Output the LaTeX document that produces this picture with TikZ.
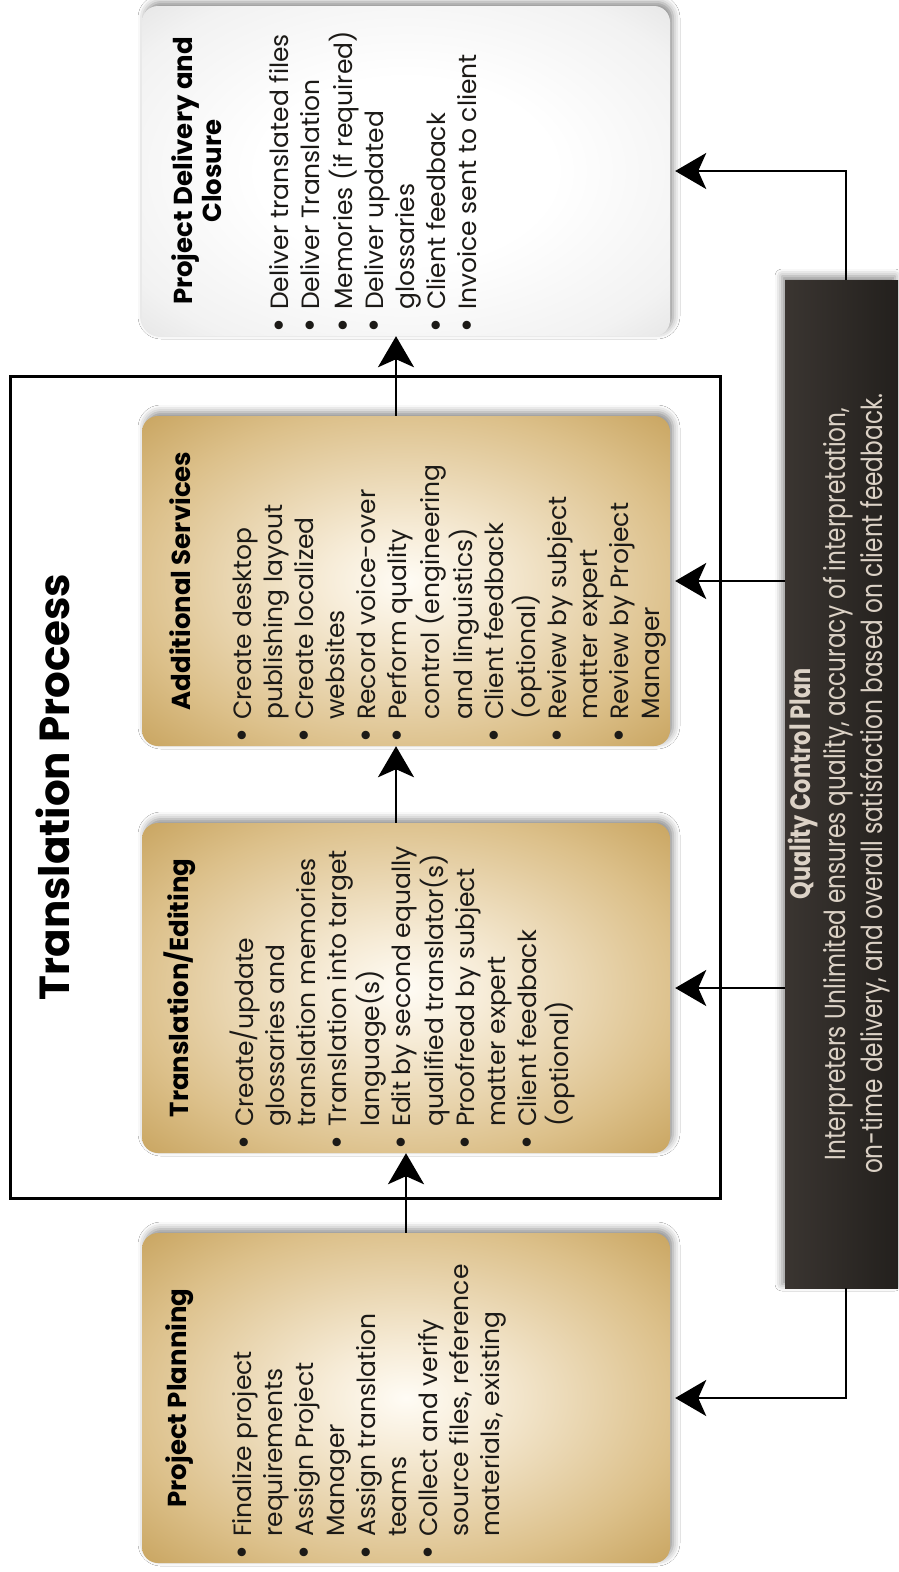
\documentclass[tikz,border=0pt]{standalone}
\usepackage{fontspec}
\setmainfont{Poppins}
\newfontfamily\qcfont{Poppins}[FakeStretch=0.8]
\usetikzlibrary{shadows.blur,arrows.meta}
\definecolor{cream}{HTML}{FFFCF5}
\definecolor{creamB}{HTML}{F6EBD6}
\definecolor{goldmid}{HTML}{DCC08A}
\definecolor{gold}{HTML}{BC9345}
\definecolor{golddk}{HTML}{AC8335}
\definecolor{grayA}{HTML}{FFFFFF}
\definecolor{grayB}{HTML}{F2F2F2}
\definecolor{grayC}{HTML}{D6D6D6}
\definecolor{grayD}{HTML}{BDBDBD}
\definecolor{qcL}{HTML}{3A3531}
\definecolor{qcR}{HTML}{23201D}
\definecolor{qctext}{HTML}{DCD2C6}
\definecolor{ink}{HTML}{1C1A17}
\pgfdeclareradialshading{goldrad}{\pgfpoint{0bp}{0bp}}{color(0bp)=(cream); color(8bp)=(creamB); color(26bp)=(goldmid); color(42bp)=(gold); color(50bp)=(golddk)}
\pgfdeclareradialshading{grayrad}{\pgfpoint{0bp}{0bp}}{color(0bp)=(grayA); color(14bp)=(grayA); color(30bp)=(grayB); color(44bp)=(grayC); color(50bp)=(grayD)}
\newcommand{\bul}{\makebox[20pt][l]{\hspace{-3pt}\raisebox{-2pt}{\fontsize{34}{31}\selectfont\textbullet}}}
\tikzset{
  stagebox/.style={shade, shading=#1, rounded corners=16pt, minimum width=528pt, minimum height=330pt, inner sep=0pt,
    blur shadow={shadow xshift=3pt, shadow yshift=4pt, shadow blur radius=7pt, shadow opacity=45}},
  boxtitle/.style={rotate=90, font=\fontsize{26}{29}\selectfont\bfseries, text=black, inner sep=0pt, align=center},
  boxbody/.style={rotate=90, anchor=north west, font=\fontsize{25}{31}\selectfont, text=ink, inner sep=0pt},
  arr/.style={line width=2.8pt, -{Stealth[length=31pt, width=36pt, inset=8pt]}},
  conn/.style={line width=2.6pt, -{Stealth[length=31pt, width=36pt, inset=8pt]}}
}
\begin{document}
\begin{tikzpicture}[x=1pt,y=-1pt]
\useasboundingbox[fill=white] (0,0) rectangle (898,1572);
% outer frame
\node[draw=black, line width=3pt, minimum width=710pt, minimum height=822pt, inner sep=0pt] (frame) at (365,787) {};
\node[rotate=90, font=\fontsize{42}{46}\selectfont\bfseries, inner sep=0pt] (ttl) at (53,787) {Translation Process};
% stage boxes
\node[stagebox=grayrad] (deliv) at (406,171) {};
\node[stagebox=goldrad] (add) at (406,581) {};
\node[stagebox=goldrad] (trans) at (406,988) {};
\node[stagebox=goldrad] (plan) at (406,1398) {};
% quality control box
\node[left color=qcL, right color=qcR, minimum width=113pt, minimum height=1008pt, inner sep=0pt,
  blur shadow={shadow xshift=-3pt, shadow yshift=4pt, shadow blur radius=7pt, shadow opacity=45}] (qc) at (841.5,784) {};
\node[rotate=90, text=qctext, font=\qcfont\fontsize{28}{32}\selectfont\bfseries, inner sep=0pt] (qct) at (803,784) {Quality Control Plan};
\node[rotate=90, text=qctext, font=\qcfont\fontsize{29}{37}\selectfont, align=center, inner sep=0pt] (qcb) at (857,784)
  {Interpreters Unlimited ensures quality, accuracy of interpretation,\\on-time delivery, and overall satisfaction based on client feedback.};
% titles
\node[boxtitle] (t1) at (180,1398) {Project Planning};
\node[boxtitle] (t2) at (180,988) {Translation/Editing};
\node[boxtitle] (t3) at (180,581) {Additional Services};
\node[boxtitle] (t4) at (197,171) {Project Delivery and\\Closure};
% bodies
\node[boxbody] (b1) at (230,1557) {\begin{tabular}{@{}l@{}l@{}}
\bul & Finalize project\\
 & requirements\\
\bul & Assign Project\\
 & Manager\\
\bul & Assign translation\\
 & teams\\
\bul & Collect and verify\\
 & source files, reference\\
 & materials, existing
\end{tabular}};
\node[boxbody] (b2) at (230,1147) {\begin{tabular}{@{}l@{}l@{}}
\bul & Create/update\\
 & glossaries and\\
 & translation memories\\
\bul & Translation into target\\
 & language(s)\\
\bul & Edit by second equally\\
 & qualified translator(s)\\
\bul & Proofread by subject\\
 & matter expert\\
\bul & Client feedback\\
 & (optional)
\end{tabular}};
\node[boxbody] (b3) at (230,740) {\begin{tabular}{@{}l@{}l@{}}
\bul & Create desktop\\
 & publishing layout\\
\bul & Create localized\\
 & websites\\
\bul & Record voice-over\\
\bul & Perform quality\\
 & control (engineering\\
 & and linguistics)\\
\bul & Client feedback\\
 & (optional)\\
\bul & Review by subject\\
 & matter expert\\
\bul & Review by Project\\
 & Manager
\end{tabular}};
\node[boxbody] (b4) at (267,330) {\begin{tabular}{@{}l@{}l@{}}
\bul & Deliver translated files\\
\bul & Deliver Translation\\
\bul & Memories (if required)\\
\bul & Deliver updated\\
 & glossaries\\
\bul & Client feedback\\
\bul & Invoice sent to client
\end{tabular}};
% flow arrows
\draw[arr] (plan.north) -- (trans.south);
\draw[arr] ([xshift=-10pt]trans.north) -- ([xshift=-10pt]add.south);
\draw[arr] ([xshift=-10pt]add.north) -- ([xshift=-10pt]deliv.south);
% quality control connectors
\draw[conn] ([xshift=4.5pt]qc.north) |- ([xshift=5pt]deliv.east);
\draw[conn] (qc.west |- add.east) -- ([xshift=5pt]add.east);
\draw[conn] (qc.west |- trans.east) -- ([xshift=5pt]trans.east);
\draw[conn] ([xshift=4.5pt]qc.south) |- ([xshift=5pt]plan.east);
\end{tikzpicture}
\end{document}
